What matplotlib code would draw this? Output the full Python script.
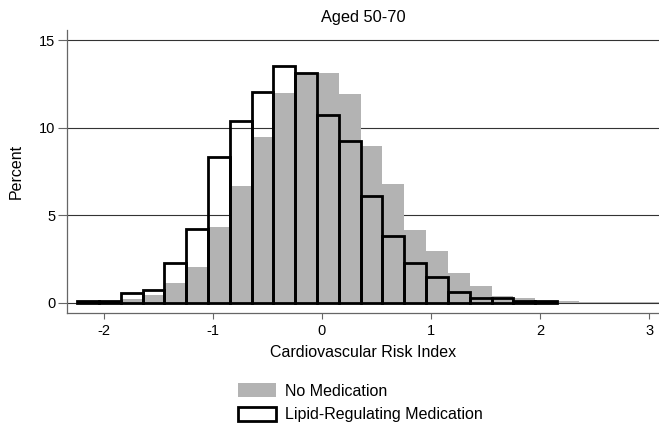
import matplotlib
matplotlib.use("Agg")
import matplotlib.pyplot as plt
from matplotlib.patches import Patch
import numpy as np

plt.rcParams['font.family'] = ['Liberation Sans', 'DejaVu Sans']

# histogram bins (shared by both groups)
bin_start = -2.245
bin_width = 0.2

# percent per bin, no medication (grey filled)
no_med = [0.05, 0.05, 0.2, 0.42, 1.1, 2.06, 4.34, 6.67, 9.45, 11.97, 13.05,
          13.1, 11.93, 8.93, 6.8, 4.15, 2.97, 1.68, 0.95, 0.4, 0.25, 0.12,
          0.1, 0.06, 0.03, 0.04, 0.03]

# percent per bin, lipid-regulating medication (black outline)
lipid_med = [0.1, 0.1, 0.55, 0.75, 2.27, 4.23, 8.32, 10.38, 12.03, 13.55,
             13.1, 10.75, 9.23, 6.09, 3.82, 2.26, 1.48, 0.62, 0.27, 0.28,
             0.12, 0.1]

x_ticks = [-2, -1, 0, 1, 2, 3]
x_ticklabels = ['-2', '-1', '0', '1', '2', '3']
y_ticks = [0, 5, 10, 15]

title = 'Aged 50-70'
xlabel = 'Cardiovascular Risk Index'
ylabel = 'Percent'
labels = ['No Medication', 'Lipid-Regulating Medication']

W, H = 659, 423
fig = plt.figure(figsize=(W / 100, H / 100), dpi=100)
ax = fig.add_axes([66.7 / W, 110.3 / H, (W - 66.7) / W, (393 - 110.3) / H])

left_nm = bin_start + bin_width * np.arange(len(no_med))
left_lm = bin_start + bin_width * np.arange(len(lipid_med))

ax.bar(left_nm, no_med, width=bin_width, align='edge', color='#b3b3b3',
       linewidth=0, zorder=2)
ax.bar(left_lm, lipid_med, width=bin_width, align='edge', fill=False,
       edgecolor='black', linewidth=2.0, zorder=3)

ax.set_xlim(-2.34, 3.09)
ax.set_ylim(-0.57, 15.58)

ax.set_xticks(x_ticks)
ax.set_xticklabels(x_ticklabels)
ax.set_yticks(y_ticks)
ax.set_yticklabels([str(v) for v in y_ticks])

# horizontal grid behind the bars
for v in y_ticks:
    ax.axhline(v, color='#333333', linewidth=0.8, zorder=1)

for side in ['top', 'right']:
    ax.spines[side].set_visible(False)
for side in ['left', 'bottom']:
    ax.spines[side].set_color('#666666')
    ax.spines[side].set_linewidth(0.9)

ax.tick_params(axis='x', length=4, width=0.8, color='#666666', pad=4,
               labelsize=10.5)
ax.tick_params(axis='y', length=6.5, width=0.8, color='#666666', pad=1.5,
               labelsize=10.5)

ax.set_title(title, fontsize=11.8, pad=6)
fig.text(16 / W, 1 - 171 / H, ylabel, rotation=90, ha='center', va='center',
         fontsize=11.5)
fig.text(363 / W, 1 - 352 / H, xlabel, ha='center', va='center', fontsize=11.5)

handles = [Patch(facecolor='#b3b3b3', edgecolor='none'),
           Patch(facecolor='white', edgecolor='black', linewidth=2.0)]
fig.legend(handles, labels, loc='upper left',
           bbox_to_anchor=(238 / W, 1 - 383 / H), frameon=False,
           borderpad=0, borderaxespad=0, fontsize=11.5,
           handlelength=2.4, handleheight=1.0, handletextpad=0.55,
           labelspacing=0.5)

plt.savefig('out.png', dpi=100)
plt.close()
